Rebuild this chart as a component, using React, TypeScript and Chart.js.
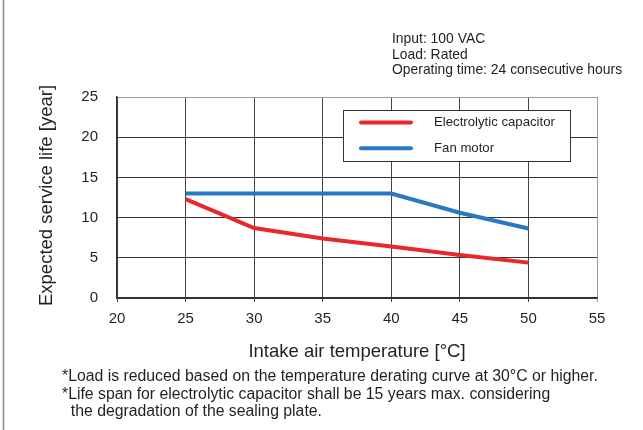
import React, { useEffect, useRef } from "react";
import { Chart, registerables } from "chart.js";

Chart.register(...registerables);

const temperatures = [25, 30, 35, 40, 45, 50];
const capacitorLife = [12.3, 8.7, 7.4, 6.4, 5.35, 4.4];
const fanMotorLife = [13, 13, 13, 13, 10.6, 8.65];
const seriesLabels = ["Electrolytic capacitor", "Fan motor"];
const seriesColors = ["#e8282b", "#2878c4"];
const xRange = [20, 55];
const yRange = [0, 25];
const tickStep = 5;
const xTitle = "Intake air temperature [°C]";
const yTitle = "Expected service life [year]";
const conditionNotes = ["Input: 100 VAC", "Load: Rated", "Operating time: 24 consecutive hours"];
const footnotes = [
  "*Load is reduced based on the temperature derating curve at 30°C or higher.",
  "*Life span for electrolytic capacitor shall be 15 years max. considering",
  "  the degradation of the sealing plate.",
];

const FONT = "'Liberation Sans', Arial, sans-serif";
const TEXT = "#231f20";

const overlayPlugin = {
  id: "overlay",
  afterDraw(chart: any) {
    const ctx = chart.ctx;
    const area = chart.chartArea;
    ctx.save();
    // left page border
    ctx.strokeStyle = "#8a8a8a";
    ctx.lineWidth = 1.5;
    ctx.beginPath();
    ctx.moveTo(3.5, 0);
    ctx.lineTo(3.5, 430);
    ctx.stroke();

    // legend box
    const bx = 343.5, by = 110.5, bw = 227, bh = 51;
    ctx.fillStyle = "#ffffff";
    ctx.fillRect(bx, by, bw, bh);
    ctx.strokeStyle = "#333";
    ctx.lineWidth = 1;
    ctx.strokeRect(bx, by, bw, bh);
    chart.data.datasets.forEach((ds: any, i: number) => {
      const y = 122.5 + i * 25.8;
      ctx.strokeStyle = ds.borderColor;
      ctx.lineWidth = 4;
      ctx.lineCap = "round";
      ctx.beginPath();
      ctx.moveTo(361, y);
      ctx.lineTo(411, y);
      ctx.stroke();
      ctx.fillStyle = TEXT;
      ctx.font = `13.2px ${FONT}`;
      ctx.textBaseline = "middle";
      ctx.textAlign = "left";
      ctx.fillText(ds.label, 434, y);
    });

    // condition notes
    ctx.fillStyle = TEXT;
    ctx.font = `13.9px ${FONT}`;
    ctx.textBaseline = "middle";
    ctx.textAlign = "left";
    conditionNotes.forEach((t, i) => ctx.fillText(t, 392, 39 + i * 15.8));

    // axis titles
    ctx.font = `18.5px ${FONT}`;
    ctx.textAlign = "center";
    ctx.fillText(xTitle, (area.left + area.right) / 2, 352);
    ctx.save();
    ctx.translate(47, (area.top + area.bottom) / 2 - 2);
    ctx.rotate(-Math.PI / 2);
    ctx.fillText(yTitle, 0, 0);
    ctx.restore();

    // footnotes
    ctx.font = `15.8px ${FONT}`;
    ctx.textAlign = "left";
    footnotes.forEach((t, i) => ctx.fillText(t, 62, 377 + i * 17.5));
    ctx.restore();
  },
};

export default function App() {
  const ref = useRef<HTMLCanvasElement>(null);
  useEffect(() => {
    document.body.style.margin = "0";
    const toXY = (vals: number[]) => vals.map((v, i) => ({ x: temperatures[i], y: v }));
    const chart = new Chart(ref.current!, {
      type: "line",
      data: {
        datasets: [
          {
            label: seriesLabels[0],
            data: toXY(capacitorLife),
            borderColor: seriesColors[0],
            borderWidth: 4,
            pointRadius: 0,
            tension: 0,
            borderCapStyle: "butt",
          },
          {
            label: seriesLabels[1],
            data: toXY(fanMotorLife),
            borderColor: seriesColors[1],
            borderWidth: 4,
            pointRadius: 0,
            tension: 0,
            borderCapStyle: "butt",
          },
        ],
      },
      options: {
        responsive: false,
        animation: false,
        layout: { padding: { left: 0, right: 46, top: 97, bottom: 0 } },
        plugins: { legend: { display: false }, tooltip: { enabled: false } },
        scales: {
          x: {
            type: "linear",
            min: xRange[0],
            max: xRange[1],
            afterFit: (s: any) => {
              s.height = 132;
            },
            ticks: {
              stepSize: tickStep,
              padding: 8,
              color: TEXT,
              font: { family: FONT, size: 15 },
            },
            grid: {
              color: (c: any) => (c.tick && c.tick.value === xRange[1] ? "#9a9a9a" : "#444"),
              lineWidth: 1,
              tickLength: 4,
              drawTicks: true,
            },
            border: { color: "#333", width: 1.5 },
          },
          y: {
            type: "linear",
            min: yRange[0],
            max: yRange[1],
            afterFit: (s: any) => {
              s.width = 117;
            },
            ticks: {
              stepSize: tickStep,
              padding: 19,
              color: TEXT,
              font: { family: FONT, size: 15 },
            },
            grid: {
              color: (c: any) => (c.tick && c.tick.value === yRange[1] ? "#9a9a9a" : "#333"),
              lineWidth: 1,
              drawTicks: false,
            },
            border: { color: "#333", width: 1.5 },
          },
        },
      },
      plugins: [overlayPlugin],
    });
    return () => chart.destroy();
  }, []);
  return (
    <div style={{ position: "absolute", left: 0, top: 0, width: 643, height: 430, background: "#fff" }}>
      <canvas ref={ref} width={643} height={430} style={{ display: "block" }} />
    </div>
  );
}
